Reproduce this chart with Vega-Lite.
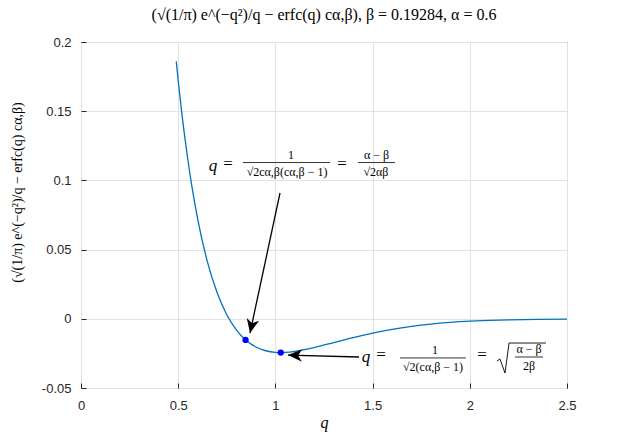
{
  "$schema": "https://vega.github.io/schema/vega-lite/v6.json",
  "width": 486,
  "height": 346,
  "autosize": {"type": "none"},
  "padding": {"left": 81, "top": 42, "right": 60, "bottom": 48},
  "background": "white",
  "title": {
    "text": "(√(1/π) e^(−q²)/q − erfc(q) cα,β), β = 0.19284, α = 0.6",
    "font": "Liberation Serif",
    "fontSize": 16,
    "fontWeight": "normal",
    "color": "black",
    "offset": 13,
    "anchor": "middle"
  },
  "config": {
    "view": {"stroke": "#262626", "strokeWidth": 1}
  },
  "datasets": {
    "curve": [
      {"q": 0.49, "f": 0.186022},
      {"q": 0.50, "f": 0.172183},
      {"q": 0.51, "f": 0.159181},
      {"q": 0.52, "f": 0.14696},
      {"q": 0.53, "f": 0.135475},
      {"q": 0.55, "f": 0.114536},
      {"q": 0.57, "f": 0.096042},
      {"q": 0.60, "f": 0.072274},
      {"q": 0.65, "f": 0.041369},
      {"q": 0.70, "f": 0.018970},
      {"q": 0.75, "f": 0.002974},
      {"q": 0.80, "f": -0.008179},
      {"q": 0.8464, "f": -0.015233},
      {"q": 0.85, "f": -0.015671},
      {"q": 0.90, "f": -0.020409},
      {"q": 0.95, "f": -0.023086},
      {"q": 1.00, "f": -0.024245},
      {"q": 1.0275, "f": -0.024392},
      {"q": 1.05, "f": -0.024304},
      {"q": 1.10, "f": -0.023587},
      {"q": 1.15, "f": -0.022344},
      {"q": 1.20, "f": -0.020769},
      {"q": 1.30, "f": -0.017167},
      {"q": 1.40, "f": -0.013549},
      {"q": 1.50, "f": -0.010305},
      {"q": 1.60, "f": -0.007595},
      {"q": 1.70, "f": -0.005443},
      {"q": 1.80, "f": -0.003801},
      {"q": 1.90, "f": -0.002592},
      {"q": 2.00, "f": -0.001726},
      {"q": 2.10, "f": -0.001124},
      {"q": 2.20, "f": -0.000717},
      {"q": 2.35, "f": -0.000351},
      {"q": 2.50, "f": -0.000164}
    ],
    "marked": [
      {"q": 0.8464, "f": -0.015233},
      {"q": 1.0275, "f": -0.024392}
    ],
    "arrows": [
      {"id": 1, "q": 1.0237, "f": 0.0909, "q2": 0.8694, "f2": -0.0103},
      {"id": 2, "q": 1.430, "f": -0.0276, "q2": 1.065, "f2": -0.0262}
    ],
    "qsym": [
      {"q": 0.679, "f": 0.1104, "label": "q"},
      {"q": 1.466, "f": -0.0276, "label": "q"}
    ],
    "eqs": [
      {"q": 0.756, "f": 0.1119, "label": "="},
      {"q": 1.343, "f": 0.1119, "label": "="},
      {"q": 1.543, "f": -0.0262, "label": "="},
      {"q": 2.063, "f": -0.0262, "label": "="}
    ],
    "fracText": [
      {"q": 1.080, "f": 0.1184, "label": "1"},
      {"q": 1.060, "f": 0.1061, "label": "√2cα,β(cα,β − 1)"},
      {"q": 1.520, "f": 0.1184, "label": "α − β"},
      {"q": 1.517, "f": 0.1061, "label": "√2αβ"},
      {"q": 1.821, "f": -0.0225, "label": "1"},
      {"q": 1.811, "f": -0.0348, "label": "√2(cα,β − 1)"},
      {"q": 2.305, "f": -0.0218, "label": "α − β"},
      {"q": 2.305, "f": -0.0341, "label": "2β"}
    ],
    "fracBars": [
      {"q": 0.833, "q2": 1.281, "f": 0.1129},
      {"q": 1.425, "q2": 1.615, "f": 0.1129},
      {"q": 1.641, "q2": 1.980, "f": -0.0283},
      {"q": 2.233, "q2": 2.377, "f": -0.0276}
    ],
    "radical": [
      {"i": 1, "q": 2.140, "f": -0.0305},
      {"i": 2, "q": 2.155, "f": -0.0290},
      {"i": 3, "q": 2.181, "f": -0.0392},
      {"i": 4, "q": 2.202, "f": -0.0175},
      {"i": 5, "q": 2.392, "f": -0.0175}
    ]
  },
  "encoding": {
    "x": {
      "field": "q",
      "type": "quantitative",
      "scale": {"domain": [0, 2.5], "nice": false, "zero": false},
      "axis": {
        "title": "q",
        "titleFont": "Liberation Serif",
        "titleFontStyle": "italic",
        "titleFontSize": 16,
        "titleFontWeight": "normal",
        "titleColor": "black",
        "titlePadding": 2,
        "values": [0, 0.5, 1, 1.5, 2, 2.5],
        "format": "~g",
        "labelFont": "Liberation Sans",
        "labelFontSize": 13,
        "labelColor": "#262626",
        "labelPadding": 11,
        "labelFlush": false,
        "offset": -5,
        "tickSize": 5,
        "tickColor": "#262626",
        "domain": false,
        "grid": true,
        "gridColor": "#e2e2e2"
      }
    },
    "y": {
      "field": "f",
      "type": "quantitative",
      "scale": {"domain": [-0.05, 0.2], "nice": false, "zero": false},
      "axis": {
        "title": "(√(1/π) e^(−q²)/q − erfc(q) cα,β)",
        "titleFont": "Liberation Serif",
        "titleFontSize": 14,
        "titleFontWeight": "normal",
        "titleColor": "black",
        "titlePadding": 17,
        "titleY": 150,
        "values": [-0.05, 0, 0.05, 0.1, 0.15, 0.2],
        "labelExpr": "replace(format(datum.value, '~g'), '\u2212', '-')",
        "labelFont": "Liberation Sans",
        "labelFontSize": 13,
        "labelColor": "#262626",
        "labelPadding": 10,
        "labelFlush": false,
        "offset": -5,
        "tickSize": 5,
        "tickColor": "#262626",
        "domain": false,
        "grid": true,
        "gridColor": "#e2e2e2"
      }
    }
  },
  "layer": [
    {
      "data": {"name": "curve"},
      "mark": {"type": "line", "color": "#0072BD", "strokeWidth": 1.3, "interpolate": "monotone"}
    },
    {
      "data": {"name": "arrows"},
      "mark": {"type": "rule", "color": "black", "strokeWidth": 1.3},
      "encoding": {"x2": {"field": "q2"}, "y2": {"field": "f2"}}
    },
    {
      "data": {"name": "arrows"},
      "transform": [{"filter": "datum.id == 1"}],
      "mark": {"type": "point", "shape": "M0,0L-1,-0.45L-0.72,0L-1,0.45Z", "size": 784, "angle": 102, "filled": true, "color": "black", "opacity": 1, "strokeWidth": 0},
      "encoding": {"x": {"field": "q2", "type": "quantitative"}, "y": {"field": "f2", "type": "quantitative"}}
    },
    {
      "data": {"name": "arrows"},
      "transform": [{"filter": "datum.id == 2"}],
      "mark": {"type": "point", "shape": "M0,0L-1,-0.45L-0.72,0L-1,0.45Z", "size": 784, "angle": 182, "filled": true, "color": "black", "opacity": 1, "strokeWidth": 0},
      "encoding": {"x": {"field": "q2", "type": "quantitative"}, "y": {"field": "f2", "type": "quantitative"}}
    },
    {
      "data": {"name": "marked"},
      "mark": {"type": "point", "shape": "circle", "filled": true, "color": "#0000ff", "size": 40, "opacity": 1}
    },
    {
      "data": {"name": "qsym"},
      "mark": {"type": "text", "font": "Liberation Serif", "fontStyle": "italic", "fontSize": 17, "color": "black", "align": "center", "baseline": "middle"},
      "encoding": {"text": {"field": "label"}}
    },
    {
      "data": {"name": "eqs"},
      "mark": {"type": "text", "font": "Liberation Serif", "fontSize": 17, "color": "black", "align": "center", "baseline": "middle"},
      "encoding": {"text": {"field": "label"}}
    },
    {
      "data": {"name": "fracText"},
      "mark": {"type": "text", "font": "Liberation Serif", "fontSize": 12, "color": "black", "align": "center", "baseline": "middle"},
      "encoding": {"text": {"field": "label"}}
    },
    {
      "data": {"name": "fracBars"},
      "mark": {"type": "rule", "color": "black", "strokeWidth": 0.8},
      "encoding": {"x2": {"field": "q2"}}
    },
    {
      "data": {"name": "radical"},
      "mark": {"type": "line", "color": "black", "strokeWidth": 0.9},
      "encoding": {"order": {"field": "i", "type": "quantitative"}}
    }
  ]
}
